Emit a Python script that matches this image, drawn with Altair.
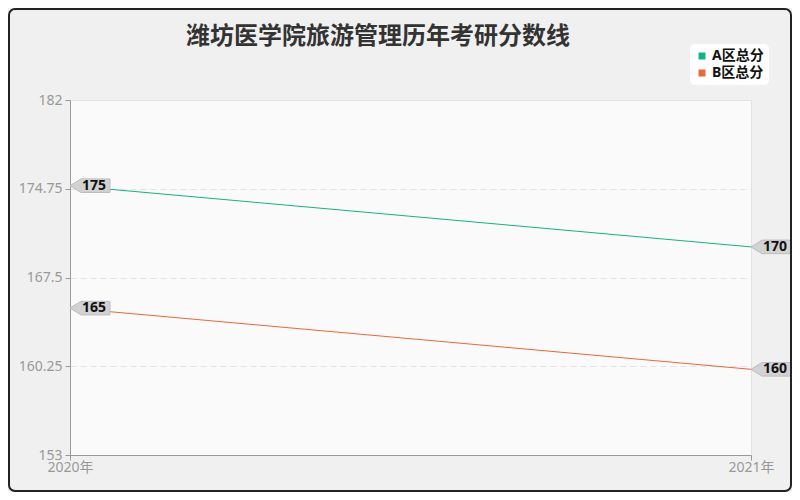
import altair as alt
import pandas as pd

years = ["2020年", "2021年"]
series_a = [175, 170]
series_b = [165, 160]
series_names = ["A区总分", "B区总分"]
y_ticks = [153, 160.25, 167.5, 174.75, 182]
colors = ["#17b185", "#e8683a"]
title_text = "潍坊医学院旅游管理历年考研分数线"

rows = []
for name, vals in zip(series_names, [series_a, series_b]):
    for yr, v in zip(years, vals):
        rows.append({"year": yr, "score": v, "series": name})
df = pd.DataFrame(rows)

FONT = "Noto Sans, Noto Sans CJK SC"
W, H = 681, 355
PL, PT, PR, PB = 62, 92, 41, 37

x_scale = alt.Scale(type="point", padding=0)
x_enc = alt.X("year:N", sort=years, scale=x_scale,
              axis=alt.Axis(title=None, labelAngle=0, labelColor="#999999", labelFontSize=14,
                            labelFont=FONT, domainColor="#999999", tickColor="#999999",
                            tickSize=5, labelPadding=0, grid=False))
y_enc = alt.Y("score:Q", scale=alt.Scale(domain=[153, 182], nice=False, zero=False),
              axis=alt.Axis(title=None, values=y_ticks, format=".2~f", labelColor="#999999",
                            labelFontSize=14, labelFont=FONT, domainColor="#999999",
                            tickColor="#999999", tickSize=5, labelPadding=3,
                            grid=True, gridColor="#e3e3e3", gridDash=[6, 4],
                            gridOpacity=alt.condition("datum.value == 153 || datum.value == 182",
                                                      alt.value(0), alt.value(1))))
color_enc = alt.Color("series:N", sort=series_names,
                      scale=alt.Scale(domain=series_names, range=colors),
                      legend=alt.Legend(title=None, orient="none", legendX=620, legendY=-56,
                                        fillColor="white", cornerRadius=5, padding=5,
                                        symbolType="square", symbolSize=4, symbolStrokeWidth=5,
                                        labelFont=FONT, labelFontSize=14, labelFontWeight="bold",
                                        labelColor="#111111", rowPadding=3, labelOffset=3,
                                        clipHeight=14))

base = alt.Chart(df)
anchor = base.transform_filter("datum.year == '2020年' && datum.series == 'A区总分'")

border = anchor.mark_rect(fill=None, stroke="#222222", strokeWidth=2, cornerRadius=6).encode(
    x=alt.value(-PL + 1), x2=alt.value(W + PR - 1),
    y=alt.value(-PT + 1), y2=alt.value(H + PB - 1)
)

title = anchor.mark_text(text=title_text, font=FONT, fontSize=24, fontWeight="bold",
                         color="#333333", align="center", baseline="middle").encode(
    x=alt.value(308), y=alt.value(-63))

lines = base.mark_line(strokeWidth=1).encode(x=x_enc, y=y_enc, color=color_enc)

callout_path = "M0,0 L0.55,-0.34 L2.0,-0.34 L2.0,0.34 L0.55,0.34 Z"
callouts = base.mark_point(shape=callout_path, size=1600, filled=True, fill="#d2d2d2",
                           stroke="#bdbdbd", strokeWidth=1, opacity=1).encode(
    x=alt.X("year:N", sort=years, scale=x_scale),
    y=alt.Y("score:Q"))

labels = base.mark_text(align="left", baseline="middle", dx=12, dy=0, font=FONT,
                        fontSize=14, fontWeight="bold", color="#111111").encode(
    x=alt.X("year:N", sort=years, scale=x_scale),
    y=alt.Y("score:Q"), text=alt.Text("score:Q", format="d"))

chart = alt.layer(lines, callouts, labels, title, border).properties(
    width=W, height=H,
    padding={"left": PL, "top": PT, "right": PR, "bottom": PB},
    autosize=alt.AutoSizeParams(type="none"),
    background="#f0f0f0",
).configure_view(fill="#fafafa", stroke="#e2e2e2")

chart.save("out.html", embed_options={"renderer": "svg", "actions": False})
